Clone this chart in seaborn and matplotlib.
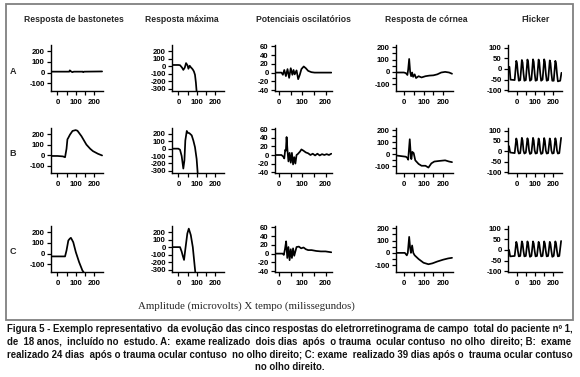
import matplotlib
matplotlib.use("Agg")
import numpy as np
import pandas as pd
import matplotlib.pyplot as plt
import seaborn as sns
from matplotlib.patches import Rectangle

# ---------------- data ----------------
col_titles = ["Resposta de bastonetes", "Resposta máxima", "Potenciais oscilatórios",
              "Resposta de córnea", "Flicker"]
row_labels = ["A", "B", "C"]

# Resposta de bastonetes
rod_A_t = [-32, 65, 68, 75, 82, 90, 140, 142, 146, 245]
rod_A_v = [10, 10, 22, 12, 5, 10, 10, 5, 10, 12]
rod_B_t = [-30, 0, 15, 30, 42, 50, 55, 60, 69, 83, 100, 110, 132, 159, 180, 195, 222, 245]
rod_B_v = [-8, -8, -10, -12, -20, 60, 150, 165, 195, 230, 238, 232, 180, 100, 60, 38, 13, -3]
rod_C_t = [-32, 0, 42, 50, 60, 68, 74, 80, 87, 101, 119, 137, 145]
rod_C_v = [-25, -25, -25, 30, 123, 140, 148, 130, 107, 15, -78, -155, -175]

# Resposta máxima
max_A_t = [-32, 0, 9, 20, 27, 35, 42, 50, 55, 62, 68, 74, 79, 85, 91, 96, 100]
max_A_v = [15, 15, 12, -20, -50, -20, 40, 10, -35, 5, -15, -30, -45, -70, -115, -220, -340]
max_B_t = [-32, 0, 9, 18, 27, 33, 38, 46, 52, 60, 73, 82, 91, 100, 106]
max_B_v = [0, 0, -15, -100, -270, -160, 110, 240, 215, 210, 180, 110, 20, -140, -340]
max_C_t = [-32, 0, 9, 18, 24, 31, 38, 49, 57, 68, 79, 88, 93]
max_C_v = [0, 0, 0, -60, -115, -170, -30, 180, 245, 160, 0, -220, -340]

# Potenciais oscilatórios
op_A_t = [-14, 10, 16, 22, 29, 36, 43, 50, 57, 62, 67, 75, 82, 89, 96, 106, 115, 125, 139, 153, 225]
op_A_v = [0, 0, -5, 6, -8, 8, -12, 10, -5, 6, -4, 5, -15, -5, 8, 14, 10, 4, 1, 0, 0]
op_B_t = [-14, 10, 18, 22, 26, 29, 32, 36, 40, 45, 50, 55, 60, 65, 70, 75, 80, 90, 96,
          105, 115, 125, 135, 145, 155, 165, 175, 185, 195, 205, 215, 225]
op_B_v = [0, 0, -4, -8, 12, 10, 42, 10, -15, 5, -18, 5, -22, -5, -20, 0, 2, 8, 13,
          10, 6, 4, 0, 3, -1, 3, -1, 2, 0, 2, 0, 3]
op_C_t = [-14, 15, 20, 25, 30, 35, 40, 45, 50, 55, 60, 65, 75, 85, 95, 105, 115, 125,
          140, 160, 180, 200, 225]
op_C_v = [0, 0, -3, 10, 28, -10, 15, -15, 10, -10, 12, -5, 15, 16, 12, 14, 10, 8,
          8, 6, 5, 5, 3]

# Resposta de córnea
cone_A_t = [-38, 0, 10, 18, 22, 27, 32, 37, 42, 47, 55, 62, 75, 90, 110, 130, 150, 170,
            190, 210, 230, 245]
cone_A_v = [-5, -5, -10, -25, 20, 105, 0, -35, -5, -40, -20, -50, -35, -45, -35, -30, -28,
            -20, -5, 0, -5, -15]
cone_B_t = [-38, 10, 18, 22, 25, 30, 35, 38, 43, 50, 58, 75, 90, 110, 125, 140, 155, 180,
            210, 230, 245]
cone_B_v = [-10, -20, -30, -45, 20, 125, 0, -40, 20, 10, -50, -80, -95, -95, -110, -75, -60,
            -55, -50, -60, -65]
cone_C_t = [-38, 5, 15, 20, 27, 32, 36, 42, 48, 55, 75, 100, 125, 145, 170, 200, 225, 245]
cone_C_v = [0, 0, -20, 0, 130, 40, 0, 60, 0, -20, -50, -80, -92, -85, -70, -55, -45, -40]

# Flicker
flk_A_t = [-42, -36, -13, -4, 0, 5, 10, 18, 27, 31, 36, 41, 49, 58, 62, 67, 72, 80, 89, 93,
           98, 103, 111, 120, 124, 129, 134, 142, 151, 155, 160, 165, 173, 182, 186, 191,
           196, 204, 213, 217, 222, 227, 240, 247]
flk_A_v = [10, -50, -52, 38, 28, -20, -55, -52, 42, 30, -20, -55, -52, 44, 32, -20, -55, -50,
           45, 33, -20, -55, -52, 44, 32, -20, -55, -50, 45, 33, -20, -55, -52, 40, 28, -20,
           -55, -55, 38, 26, -22, -58, -55, -18]
flk_B_t = [-44, -38, -13, -4, 0, 5, 10, 18, 27, 31, 36, 41, 49, 58, 62, 67, 72, 80, 89, 93,
           98, 103, 111, 120, 124, 129, 134, 142, 151, 155, 160, 165, 173, 182, 186, 191,
           196, 204, 213, 217, 222, 227, 235, 245]
flk_B_v = [25, -5, -8, 62, 50, 5, -10, -8, 65, 52, 5, -10, -6, 63, 50, 5, -12, -8, 65, 52, 5,
           -10, -8, 62, 50, 5, -12, -8, 64, 50, 5, -10, -8, 62, 50, 5, -10, -8, 63, 50, 5,
           -10, -8, 65]
flk_C_t = flk_B_t
flk_C_v = [0, -30, -28, 38, 28, -5, -30, -28, 40, 30, -5, -30, -28, 40, 30, -5, -32, -28, 40,
           30, -5, -30, -28, 38, 28, -5, -30, -28, 40, 30, -5, -30, -28, 38, 28, -5, -32, -28,
           40, 30, -5, -30, -28, 42]

x_ticks = [0, 50, 100, 150, 200]
x_ticklabels = ["0", "", "100", "", "200"]

caption_lines = [
    "Figura 5 - Exemplo representativo da evolução das cinco respostas do eletrorretinograma de campo total do paciente nº 1,",
    "de 18 anos, incluído no estudo. A: exame realizado dois dias após o trauma ocular contuso no olho direito; B: exame",
    "realizado 24 dias após o trauma ocular contuso no olho direito; C: exame realizado 39 dias após o trauma ocular contuso",
    "no olho direito.",
]
axis_note = "Amplitude (microvolts) X tempo (milissegundos)"

traces = [
    [(rod_A_t, rod_A_v), (max_A_t, max_A_v), (op_A_t, op_A_v), (cone_A_t, cone_A_v), (flk_A_t, flk_A_v)],
    [(rod_B_t, rod_B_v), (max_B_t, max_B_v), (op_B_t, op_B_v), (cone_B_t, cone_B_v), (flk_B_t, flk_B_v)],
    [(rod_C_t, rod_C_v), (max_C_t, max_C_v), (op_C_t, op_C_v), (cone_C_t, cone_C_v), (flk_C_t, flk_C_v)],
]

# ---------------- layout / style ----------------
W, H = 580, 377
sns.set_style("ticks")
plt.rcParams["font.family"] = ["Liberation Sans", "DejaVu Sans"]

fig = plt.figure(figsize=(W / 100, H / 100), dpi=100)
fig.patch.set_facecolor("white")


def rect(l, t, r, b):
    return [l / W, 1 - b / H, (r - l) / W, (b - t) / H]


col_geo = [
    dict(l=51, r=103, xlim=(-35, 250), ylim=(-170, 258), yt=[-100, 0, 100, 200], ytl=None),
    dict(l=172, r=224, xlim=(-35, 250), ylim=(-330, 280), yt=[-300, -200, -100, 0, 100, 200], ytl=None),
    dict(l=275, r=332, xlim=(-18, 228), ylim=(-42, 63), yt=[-40, -20, 0, 20, 40, 60], ytl=None),
    dict(l=396, r=453, xlim=(-40, 250), ylim=(-155, 218), yt=[-100, -50, 0, 50, 100, 150, 200],
         ytl=["-100", "", "0", "", "100", "", "200"]),
    dict(l=508, r=562, xlim=(-50, 250), ylim=(-103, 112), yt=[-100, -50, 0, 50, 100], ytl=None),
]
row_geo = [(45, 91), (128, 173), (226, 272)]
title_x = [74, 182, 303, 426, 535]
row_label_y = [72, 153, 252]

fig.patches.append(Rectangle((6 / W, 1 - 320 / H), 567 / W, 316 / H, transform=fig.transFigure,
                             fill=False, edgecolor="#808080", lw=1.3))

for ri, (top, bot) in enumerate(row_geo):
    for ci, g in enumerate(col_geo):
        ax = fig.add_axes(rect(g["l"], top, g["r"], bot))
        t, v = traces[ri][ci]
        df = pd.DataFrame({"t": t, "v": v})
        sns.lineplot(data=df, x="t", y="v", ax=ax, color="black", lw=1.25,
                     estimator=None, sort=False)
        ax.set_xlim(*g["xlim"])
        ax.set_ylim(*g["ylim"])
        ax.set_xlabel("")
        ax.set_ylabel("")
        ax.set_facecolor("none")
        for s in ["top", "right"]:
            ax.spines[s].set_visible(False)
        for s in ["left", "bottom"]:
            ax.spines[s].set_linewidth(1.0)
            ax.spines[s].set_color("black")
        ax.set_xticks(x_ticks)
        ax.set_xticklabels(x_ticklabels, fontweight="bold", fontsize=5.6)
        ax.set_yticks(g["yt"])
        ax.set_yticklabels(g["ytl"] if g["ytl"] else [str(y) for y in g["yt"]],
                           fontweight="bold", fontsize=5.6)
        ax.tick_params(direction="out", length=3, width=0.9, pad=1.5, colors="black")
        ax.tick_params(axis="x", pad=3)

for ci, ttl in enumerate(col_titles):
    fig.text(title_x[ci] / W, 1 - 20 / H, ttl, ha="center", va="center",
             fontsize=6.2, fontweight="bold")
for ri, lab in enumerate(row_labels):
    fig.text(13 / W, 1 - row_label_y[ri] / H, lab, ha="center", va="center",
             fontsize=6.5, fontweight="bold")

fig.text(246 / W, 1 - 306 / H, axis_note, ha="center", va="center", fontsize=7.8,
         family=["Liberation Serif", "DejaVu Serif"])

# caption: one text per line, justified by distributing extra spaces
renderer = fig.canvas.get_renderer()
cap_base = [332, 345, 358, 370]
x0, x1 = 7, 572
span = x1 - x0
cap_kw = dict(fontweight="bold", va="baseline", ha="left", color="#111111")


def width_of(s, size):
    tt = fig.text(0, 0, s, fontsize=size, **cap_kw)
    wd = tt.get_window_extent(renderer).width
    tt.remove()
    return wd


size = 6.85
size = size * (span - 1) / width_of(caption_lines[0], size)
space_w = width_of("a a", size) - width_of("aa", size)

for li, line in enumerate(caption_lines):
    y = 1 - cap_base[li] / H
    if li == len(caption_lines) - 1:
        fig.text(0.5 * (x0 + x1) / W, y, line, fontsize=size, **{**cap_kw, "ha": "center"})
        continue
    words = line.split(" ")
    n_gaps = len(words) - 1
    deficit = span - width_of(line, size)
    n_extra = max(int(round(deficit / space_w)), 0)
    extras = [0] * n_gaps
    for k in range(n_extra):
        extras[int((k + 0.5) * n_gaps / max(n_extra, 1)) % n_gaps] += 1
    s = words[0]
    for k in range(n_gaps):
        s += " " * (1 + extras[k]) + words[k + 1]
    fig.text(x0 / W, y, s, fontsize=size, **cap_kw)

fig.savefig("out.png", dpi=100, facecolor="white")
